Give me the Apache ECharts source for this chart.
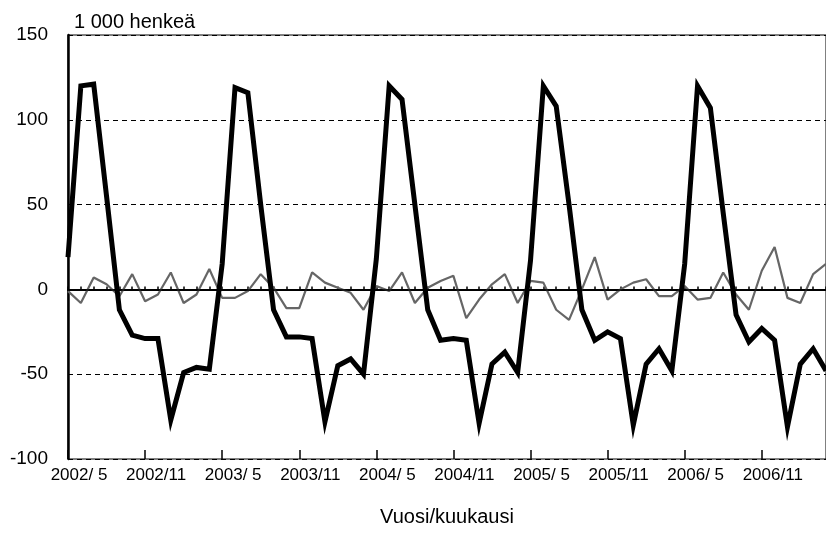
<!DOCTYPE html>
<html>
<head>
<meta charset="utf-8">
<script src="https://cdn.jsdelivr.net/npm/echarts@6/dist/echarts.min.js"></script>
<style>
  html, body { margin: 0; padding: 0; background: #fff; }
  #chart { width: 826px; height: 534px; }
</style>
</head>
<body>
<div id="chart"></div>
<script>
// kuukaudet 2002/5 - 2007/4
var months = [
  '2002/ 5','2002/ 6','2002/ 7','2002/ 8','2002/ 9','2002/10','2002/11','2002/12',
  '2003/ 1','2003/ 2','2003/ 3','2003/ 4','2003/ 5','2003/ 6','2003/ 7','2003/ 8','2003/ 9','2003/10','2003/11','2003/12',
  '2004/ 1','2004/ 2','2004/ 3','2004/ 4','2004/ 5','2004/ 6','2004/ 7','2004/ 8','2004/ 9','2004/10','2004/11','2004/12',
  '2005/ 1','2005/ 2','2005/ 3','2005/ 4','2005/ 5','2005/ 6','2005/ 7','2005/ 8','2005/ 9','2005/10','2005/11','2005/12',
  '2006/ 1','2006/ 2','2006/ 3','2006/ 4','2006/ 5','2006/ 6','2006/ 7','2006/ 8','2006/ 9','2006/10','2006/11','2006/12',
  '2007/ 1','2007/ 2','2007/ 3','2007/ 4'
];

// paksu musta viiva
var seriesBlack = [
  19, 120, 121, 55, -12, -27, -29, -29,
  -77, -49, -46, -47, 15, 119, 116, 50, -12, -28, -28, -29,
  -78, -45, -41, -50, 18, 120, 112, 50, -12, -30, -29, -30,
  -79, -44, -37, -49, 17, 120, 108, 50, -12, -30, -25, -29,
  -80, -44, -35, -48, 15, 120, 107, 45, -15, -31, -23, -30,
  -81, -44, -35, -48
];

// ohut harmaa viiva
var seriesGray = [
  -1, -8, 7, 3, -4, 9, -7, -3,
  10, -8, -3, 12, -5, -5, -1, 9, 1, -11, -11, 10,
  4, 1, -2, -12, 2, -1, 10, -8, 1, 5, 8, -17,
  -6, 3, 9, -8, 5, 4, -12, -18, 0, 19, -6, 0,
  4, 6, -4, -4, 2, -6, -5, 10, -3, -12, 11, 25,
  -5, -8, 9, 15
];

var yTicks = [-100, -50, 0, 50, 100, 150];

var chart = echarts.init(document.getElementById('chart'));

var option = {
  backgroundColor: '#fff',
  animation: false,
  textStyle: { fontFamily: 'Liberation Sans, Arial, sans-serif' },
  title: {
    text: '1 000 henkeä',
    left: 69,
    top: 7,
    textStyle: { fontSize: 20, fontWeight: 'normal', color: '#000' }
  },
  grid: {
    left: 68,
    top: 35,
    bottom: 75,
    right: -6,
    show: true,
    borderColor: '#000',
    borderWidth: 1
  },
  xAxis: [{
    type: 'category',
    data: months,
    boundaryGap: false,
    name: 'Vuosi/kuukausi',
    nameLocation: 'middle',
    nameGap: 48,
    nameTextStyle: { fontSize: 20, color: '#000' },
    axisLine: { lineStyle: { color: '#000', width: 2 } },
    axisTick: { inside: true, length: 3, interval: 0, lineStyle: { color: '#000', width: 1.5 } },
    axisLabel: {
      interval: 5,
      fontSize: 17,
      color: '#000',
      margin: 8,
      padding: [0, 0, 0, 22]
    },
    splitLine: { show: false }
  }, {
    type: 'category',
    data: months,
    boundaryGap: false,
    position: 'bottom',
    axisLine: { show: false },
    axisTick: { inside: true, length: 9, interval: 5, lineStyle: { color: '#000', width: 1.5 } },
    axisLabel: { show: false },
    splitLine: { show: false }
  }],
  yAxis: {
    type: 'value',
    min: yTicks[0],
    max: yTicks[yTicks.length - 1],
    interval: 50,
    axisLine: { show: true, lineStyle: { color: '#000', width: 2.5 } },
    axisTick: { show: false },
    axisLabel: { fontSize: 19, color: '#000', margin: 20 },
    splitLine: { show: true, lineStyle: { color: '#000', width: 1.2, type: [5, 4] } }
  },
  series: [{
    name: 'harmaa',
    type: 'line',
    data: seriesGray,
    symbol: 'none',
    lineStyle: { color: '#666', width: 2.2 },
    markLine: {
      silent: true,
      symbol: 'none',
      label: { show: false },
      lineStyle: { color: '#000', width: 1.5, type: 'solid' },
      data: [{ yAxis: 0 }]
    }
  }, {
    name: 'musta',
    type: 'line',
    data: seriesBlack,
    symbol: 'none',
    lineStyle: { color: '#000', width: 5, join: 'miter' }
  }]
};

chart.setOption(option);
</script>
</body>
</html>
